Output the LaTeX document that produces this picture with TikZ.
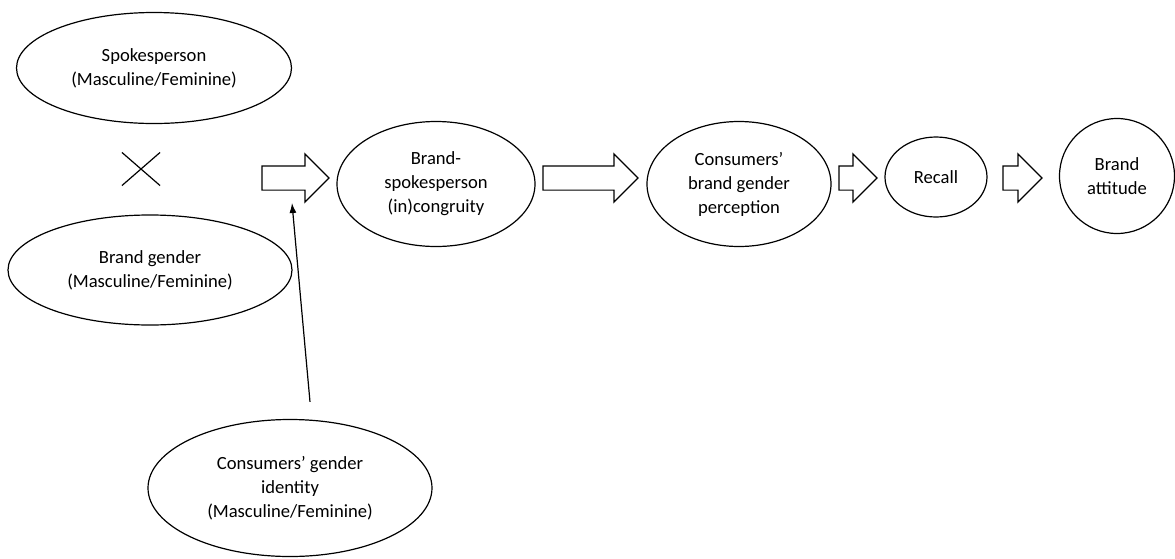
\documentclass[tikz,border=0pt]{standalone}
\usepackage{fontspec}
\setmainfont{Carlito}
\usetikzlibrary{shapes.geometric,shapes.arrows,shapes.misc,arrows.meta}

\tikzset{
  oval/.style={draw, ellipse, line width=0.6pt, inner sep=0pt, align=center,
    font=\fontsize{9.3}{12}\selectfont},
  blockarrow/.style={draw, single arrow, line width=0.6pt, inner xsep=0pt, inner ysep=5.75pt,
    single arrow head extend=6pt, single arrow head indent=0pt, anchor=tail, outer sep=0pt},
  thinarrow/.style={line width=0.6pt, -{Latex[length=5pt,width=3.5pt]}}
}

\begin{document}
\begin{tikzpicture}[x=0.5pt, y=-0.5pt]
  \useasboundingbox (0,0) rectangle (1175,558);

  % inputs
  \node[oval, minimum width=137.5pt, minimum height=55.5pt] (spokes) at (154,68) {Spokesperson\\(Masculine/Feminine)};
  \node[draw, cross out, line width=0.6pt, minimum width=18.5pt, minimum height=16pt] (times) at (141,169) {};
  \node[oval, minimum width=142pt, minimum height=55pt] (bgender) at (150,270) {Brand gender\\(Masculine/Feminine)};
  \node[oval, minimum width=142pt, minimum height=68.5pt] (identity) at (290,488) {Consumers’ gender\\identity\\(Masculine/Feminine)};

  % chain
  \node[oval, minimum width=99pt, minimum height=62.5pt] (congr) at (436,184) {Brand-\\spokesperson\\(in)congruity};
  \node[oval, minimum width=92pt, minimum height=62.5pt] (percept) at (739,184) {Consumers’\\brand gender\\perception};
  \node[oval, minimum width=51pt, minimum height=40pt] (recall) at (936,177) {Recall};
  \node[oval, minimum width=57.5pt, minimum height=57.5pt] (attitude) at (1117,176) {Brand\\attitude};

  % block arrows
  \node[blockarrow, minimum height=33.5pt] (ba1) at (262,178) {};
  \node[blockarrow, minimum height=47.5pt] (ba2) at (543,178) {};
  \node[blockarrow, minimum height=19pt] (ba3) at (839,178) {};
  \node[blockarrow, minimum height=19.5pt] (ba4) at (1003,178) {};

  % moderator
  \coordinate (tip) at (292,203);
  \draw[thinarrow] ([xshift=10pt, yshift=8.5pt]identity.north) -- (tip);
\end{tikzpicture}
\end{document}
